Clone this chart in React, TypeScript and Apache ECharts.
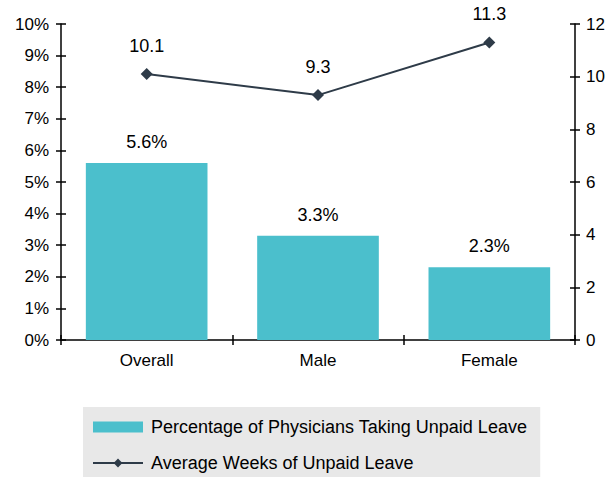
import React, { useEffect, useRef } from "react";
import * as echarts from "echarts";

const categories = ["Overall", "Male", "Female"];
const pctValues = [5.6, 3.3, 2.3];
const weeksValues = [10.1, 9.3, 11.3];
const barName = "Percentage of Physicians Taking Unpaid Leave";
const lineName = "Average Weeks of Unpaid Leave";

export default function App() {
  const ref = useRef<HTMLDivElement>(null);
  useEffect(() => {
    const chart = echarts.init(ref.current!, null, { renderer: "svg" });
    const font = "Liberation Sans, Arial, sans-serif";
    const axisLine = { show: true, lineStyle: { color: "#000", width: 1.5 } };
    const tick = { show: true, length: 5, lineStyle: { color: "#000", width: 1.5 } };
    chart.setOption({
      animation: false,
      textStyle: { fontFamily: font },
      grid: { left: 61, right: 40, top: 24, bottom: 137 },
      legend: {
        orient: "vertical",
        left: 83,
        top: 407,
        height: 60,
        backgroundColor: "#E8E8E8",
        padding: [11, 13, 6, 9],
        itemGap: 18,
        itemWidth: 50,
        itemHeight: 11,
        textStyle: { fontSize: 18, color: "#000", fontFamily: font, padding: [0, 0, 0, 3] },
        data: [
          { name: barName, icon: "rect" },
          { name: lineName },
        ],
      },
      xAxis: [
        {
          type: "category",
          data: categories,
          axisLine,
          axisTick: { ...tick, alignWithLabel: false },
          axisLabel: { color: "#000", fontSize: 17, margin: 12, fontFamily: font },
        },
        {
          type: "category",
          data: categories,
          position: "bottom",
          axisLine: { show: false },
          axisTick: { ...tick, inside: true },
          axisLabel: { show: false },
        },
      ],
      yAxis: [
        {
          type: "value",
          min: 0,
          max: 0.1,
          interval: 0.01,
          position: "left",
          axisLine,
          axisTick: tick,
          splitLine: { show: false },
          axisLabel: {
            color: "#000",
            fontSize: 17,
            margin: 12,
            fontFamily: font,
            formatter: (v: number) => Math.round(v * 100) + "%",
          },
        },
        {
          type: "value",
          min: 0,
          max: 12,
          interval: 2,
          position: "right",
          axisLine,
          axisTick: tick,
          splitLine: { show: false },
          axisLabel: { color: "#000", fontSize: 17, margin: 11, fontFamily: font },
        },
        {
          type: "value",
          min: 0,
          max: 0.1,
          interval: 0.01,
          position: "left",
          axisLine: { show: false },
          axisTick: { ...tick, inside: true },
          splitLine: { show: false },
          axisLabel: { show: false },
        },
        {
          type: "value",
          min: 0,
          max: 12,
          interval: 2,
          position: "right",
          axisLine: { show: false },
          axisTick: { ...tick, inside: true },
          splitLine: { show: false },
          axisLabel: { show: false },
        },
      ],
      series: [
        {
          name: barName,
          type: "bar",
          yAxisIndex: 0,
          data: pctValues.map((v) => v / 100),
          barCategoryGap: "29%",
          itemStyle: { color: "#4BBFCC" },
          label: {
            show: true,
            position: "top",
            distance: 12,
            color: "#000",
            fontSize: 18,
            fontFamily: font,
            formatter: (p: any) => (p.value * 100).toFixed(1) + "%",
          },
        },
        {
          name: lineName,
          type: "line",
          yAxisIndex: 1,
          data: weeksValues,
          symbol: "diamond",
          symbolSize: 12,
          lineStyle: { color: "#2E3B48", width: 2 },
          itemStyle: { color: "#2E3B48" },
          label: {
            show: true,
            position: "top",
            distance: 13,
            color: "#000",
            fontSize: 18,
            fontFamily: font,
            formatter: (p: any) => p.value.toFixed(1),
          },
        },
      ],
    });
    return () => chart.dispose();
  }, []);
  return <div ref={ref} style={{ width: 615, height: 477, position: "absolute", left: 0, top: 0 }} />;
}
